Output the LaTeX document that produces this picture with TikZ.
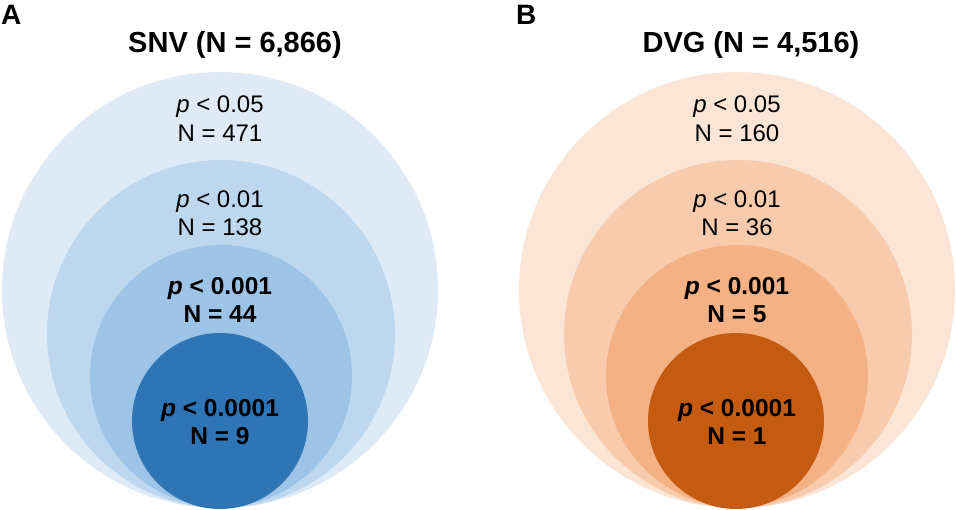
\documentclass[tikz,border=0pt]{standalone}
\usepackage{fontspec}
\setmainfont{Liberation Sans}
\definecolor{bA}{HTML}{DEEBF7}
\definecolor{bB}{HTML}{BDD7EE}
\definecolor{bC}{HTML}{9DC3E6}
\definecolor{bD}{HTML}{2E75B6}
\definecolor{oA}{HTML}{FBE5D6}
\definecolor{oB}{HTML}{F8CBAD}
\definecolor{oC}{HTML}{F4B183}
\definecolor{oD}{HTML}{C55A11}
\begin{document}
\begin{tikzpicture}[x=1pt,y=-1pt,
  ring/.style={circle, inner sep=0pt, draw=none},
  lbl/.style={anchor=base, inner sep=0pt, font=\fontsize{24}{28}\selectfont},
  blbl/.style={lbl, font=\fontsize{24.5}{28}\selectfont\bfseries},
  ttl/.style={anchor=base, inner sep=0pt, font=\fontsize{29}{34}\selectfont\bfseries},
  panel/.style={anchor=base west, inner sep=0pt, font=\fontsize{28}{34}\selectfont\bfseries}]
\useasboundingbox (0,0) rectangle (956,510);
% Panel A
\node[ring, fill=bA, minimum size=436pt] (a1) at (220,290) {};
\node[ring, fill=bB, minimum size=348pt] (a2) at (221,334) {};
\node[ring, fill=bC, minimum size=262pt] (a3) at (221,376) {};
\node[ring, fill=bD, minimum size=176pt] (a4) at (220,421) {};
\node[panel] (pa) at (1,25) {A};
\node[ttl] (ta) at (235,53) {SNV (N = 6,866)};
\node[lbl] (a1p) at (220,113) {\textit{p} < 0.05};
\node[lbl] (a1n) at (220,142) {N = 471};
\node[lbl] (a2p) at (220,208) {\textit{p} < 0.01};
\node[lbl] (a2n) at (220,236) {N = 138};
\node[blbl] (a3p) at (220,295) {\textit{p} < 0.001};
\node[blbl] (a3n) at (220,323) {N = 44};
\node[blbl] (a4p) at (220,417) {\textit{p} < 0.0001};
\node[blbl] (a4n) at (220,445) {N = 9};
% Panel B
\node[ring, fill=oA, minimum size=436pt] (b1) at (737,290) {};
\node[ring, fill=oB, minimum size=348pt] (b2) at (738,334) {};
\node[ring, fill=oC, minimum size=262pt] (b3) at (737,376) {};
\node[ring, fill=oD, minimum size=176pt] (b4) at (736,421) {};
\node[panel] (pb) at (516,25) {B};
\node[ttl] (tb) at (751,53) {DVG (N = 4,516)};
\node[lbl] (b1p) at (737,113) {\textit{p} < 0.05};
\node[lbl] (b1n) at (737,142) {N = 160};
\node[lbl] (b2p) at (737,208) {\textit{p} < 0.01};
\node[lbl] (b2n) at (737,236) {N = 36};
\node[blbl] (b3p) at (737,295) {\textit{p} < 0.001};
\node[blbl] (b3n) at (737,323) {N = 5};
\node[blbl] (b4p) at (737,417) {\textit{p} < 0.0001};
\node[blbl] (b4n) at (737,445) {N = 1};
\end{tikzpicture}
\end{document}
